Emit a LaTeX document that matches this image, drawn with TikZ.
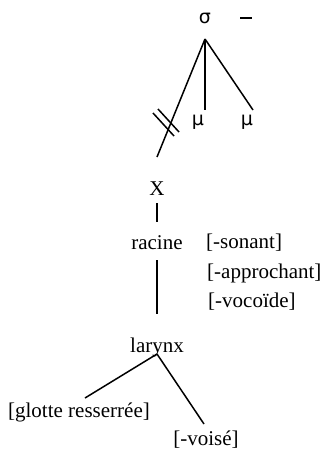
\documentclass[tikz,border=0pt]{standalone}
\usepackage{fontspec}
\setmainfont{Liberation Serif}
\newfontfamily\grk{DejaVu Sans}
\begin{document}
\begin{tikzpicture}[x=1pt,y=-1pt,
  lbl/.style={inner sep=0pt,font=\fontsize{21}{24}\selectfont},
  glbl/.style={inner sep=0pt,font=\grk\fontsize{19}{22}\selectfont},
  ln/.style={line width=1.5pt}]
\useasboundingbox (0,0) rectangle (324,451);
\node[glbl] (sigma) at (205,18) {σ};
\coordinate (dashL) at (240,18);
\coordinate (dashR) at (252,18);
\draw[line width=2.5pt] (dashL) -- (dashR);
\coordinate (top) at (205,39);
\coordinate (mu1t) at (205,110);
\coordinate (mu2t) at (253,110);
\coordinate (xt) at (157,157);
\node[glbl] (mu1) at (198,122) {μ};
\node[glbl] (mu2) at (247,122) {μ};
\draw[ln] (top) -- (mu1t);
\draw[ln] (top) -- (mu2t);
\draw[ln] (top) -- (xt);
% double hash
\coordinate (h1a) at (153,113);
\coordinate (h1b) at (174,136);
\coordinate (h2a) at (158,109);
\coordinate (h2b) at (179,132);
\draw[ln] (h1a) -- (h1b);
\draw[ln] (h2a) -- (h2b);
\node[lbl] (X) at (157,189) {X};
\node[lbl] (racine) at (157,243) {racine};
\draw[ln] (157,203) -- (157,222);
\draw[ln] (157,260) -- (157,314);
\node[lbl,anchor=west] (son) at (206,243) {[-sonant]};
\node[lbl,anchor=west] (app) at (207,273) {[-approchant]};
\node[lbl,anchor=west] (voc) at (208,302) {[-vocoïde]};
\node[lbl] (larynx) at (157,347) {larynx};
\coordinate (lap) at (157,354);
\coordinate (gl) at (85,398);
\coordinate (vo) at (204,424);
\draw[ln] (lap) -- (gl);
\draw[ln] (lap) -- (vo);
\node[lbl] (glotte) at (79,412) {[glotte resserrée]};
\node[lbl] (voise) at (206,440) {[-voisé]};
\end{tikzpicture}
\end{document}
